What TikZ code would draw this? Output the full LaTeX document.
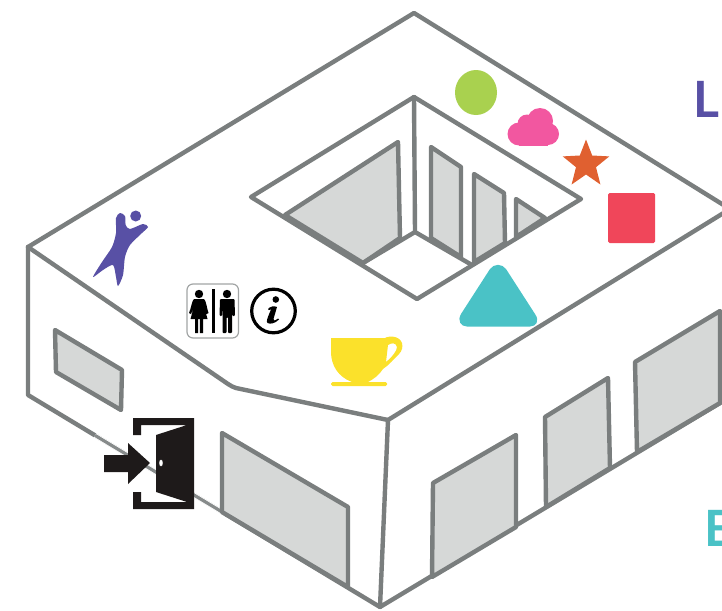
\documentclass[tikz,border=0pt]{standalone}
\usepackage{fontspec}
\setmainfont{Lato}
\definecolor{wall}{HTML}{7A7E7E}
\definecolor{glass}{HTML}{D6D8D7}
\definecolor{purp}{HTML}{5850A5}
\definecolor{teal}{HTML}{4AC2C6}
\definecolor{lime}{HTML}{A9D14F}
\definecolor{pinkc}{HTML}{F257A0}
\definecolor{orangec}{HTML}{E06030}
\definecolor{redc}{HTML}{F0465A}
\definecolor{yellowc}{HTML}{FBE12B}
\definecolor{ink}{HTML}{1E1A1A}
\tikzset{
  wallline/.style={draw=wall,line width=4.4pt,line join=round,line cap=round},
  pane/.style={wallline,fill=glass},
  bigtext/.style={font=\fontsize{50}{50}\selectfont\bfseries,inner sep=0pt,anchor=base west}
}
\begin{document}
\begin{tikzpicture}[x=1pt,y=-1pt]
\useasboundingbox (0,0) rectangle (722,610);
\clip (0,0) rectangle (722,610);
% building outline
\draw[wallline] (28,247) -- (414,13) -- (730,209) -- (388,420)
  -- (380,607) -- (730,397);
\draw[wallline] (28,247) -- (28,395) -- (380,607);
\draw[wallline] (28,247) -- (228,384) .. controls (231,386) and (233,387) .. (236,388) -- (388,420);
% faded stretch of the lower wall edge
\draw[white,line width=5pt] (95,435.4) -- (225,513.7);
\draw[wall!90,line width=3.2pt] (95,435.4) -- (225,513.7);
% left wall windows
\draw[pane] (55,330) -- (122,370) -- (121,410) -- (56,372) -- cycle;
\draw[pane] (222,433) -- (348,507) -- (348,587) -- (222,512) -- cycle;
% right wall windows
\draw[pane] (433,483) -- (516,435) -- (516,527) -- (432,577) -- cycle;
\draw[pane] (545,417) -- (608,378) -- (610,468) -- (546,507) -- cycle;
\draw[pane] (635,362) -- (720,311) -- (720,403) -- (637,452) -- cycle;
% atrium
\draw[pane] (285,215) -- (398,142) -- (400,238) -- (363,263) -- cycle;
\draw[pane] (431,147) -- (461,167) -- (461,257) -- (431,238) -- cycle;
\draw[pane] (474,174) -- (504,193) -- (505,243) -- (474,262) -- cycle;
\draw[pane] (516,199) -- (545,218) -- (516,237) -- cycle;
\draw[wallline] (414,97) -- (251,197) -- (417,299) -- (581,199) -- cycle;
\draw[wallline] (414,97) -- (415,232) -- (363,263);
\draw[wallline] (415,232) -- (472,265);
% colour shapes
\fill[lime] (476,92.5) ellipse [x radius=21,y radius=22.5];
\fill[pinkc] (519,134) circle (11.5);
\fill[pinkc] (527,124) circle (9.5);
\fill[pinkc] (540,121) circle (13);
\fill[pinkc] (548,134) circle (11);
\fill[pinkc] (519,122) rectangle (548,145.5);
\fill[orangec] (586,139.5) -- (592.2,155.5) -- (609.3,156.4) -- (596,167.2) -- (600.4,184.5)
  -- (586,174.5) -- (571.6,184.5) -- (576,167.2) -- (562.7,156.4) -- (579.8,155.5) -- cycle;
\fill[redc,rounded corners=1.5pt] (608,193) rectangle (655,243);
\fill[teal] (490,269) .. controls (494,263.5) and (502,263.5) .. (506,269) -- (535,314)
  .. controls (540,321) and (536,326.5) .. (530,326.5) -- (467,326.5)
  .. controls (461,326.5) and (457,321) .. (461,314) -- cycle;
% cup
\fill[yellowc,even odd rule] (331,338) -- (385,338) .. controls (388,336) and (399,335) .. (402,343)
  .. controls (403,347) and (402,351) .. (399,354) .. controls (394,359) and (389,365) .. (383,369)
  .. controls (379,375) and (374,379) .. (368,382) -- (352,382) .. controls (338,377) and (331,365) .. (331,352) -- cycle
  (388,345) .. controls (391,343) and (396,342) .. (397,347) .. controls (397,351) and (392,357) .. (386,362) -- cycle;
\fill[yellowc,rounded corners=1.5pt] (331,382) rectangle (387,386);
% person
\fill[purp] (135.7,216) circle (5.5);
\fill[purp] plot[smooth cycle,tension=.45] coordinates {(116,218) (120,213) (125,216) (125.7,225) (130,229)
  (143,224) (148,227) (142,233) (130,245) (125,257) (123,275) (118,286) (116,277) (113,265)
  (103,270) (93,277) (102,262) (112,247) (116,233)};
% restroom sign
\draw[wall!70,fill=white,line width=1.2pt,rounded corners=6pt] (187,284) rectangle (238.5,338);
\fill[black] (211.5,289) rectangle (215,333);
\fill[black] (199,294) circle (4.2) (227,294) circle (4.2);
\fill[black] (194,299) -- (204,299) .. controls (206,300) and (207,309) .. (208.5,313) -- (206.5,314) -- (204.5,308)
  -- (207.5,319) -- (203,319) -- (203,333) -- (199.8,333) -- (199.8,319) -- (198.2,319) -- (198.2,333) -- (195,333) -- (195,319)
  -- (190.5,319) -- (193.5,308) -- (191,314) -- (189,313) .. controls (191,309) and (192,300) .. (194,299) -- cycle;
\fill[black,rounded corners=1pt] (220,299) -- (234.5,299) -- (235,316) -- (232.5,316) -- (232,306) -- (232,333) -- (228,333) -- (228,317)
  -- (226.5,317) -- (226.5,333) -- (222.5,333) -- (222.5,306) -- (222,316) -- (219.5,316) -- cycle;
% information sign
\draw[black,line width=3.2pt] (273.5,311) circle (21.8);
\fill[black] (275.8,299.5) circle (3.3);
\fill[black] (268,309) .. controls (270,306.5) and (274,305.5) .. (277,307) -- (273.5,319)
  .. controls (273,321) and (275,321) .. (278,318.5) -- (279,319.5)
  .. controls (275,323.5) and (270,324.5) .. (267.5,323) .. controls (266,321.5) and (267,319) .. (271,309.5)
  .. controls (270,309) and (269,309.5) .. (268.7,310) -- cycle;
% entrance sign
\fill[ink] (133,418) -- (194,418) -- (194,509) -- (133,509) -- (133,492) -- (141,492) -- (141,502)
  -- (187,502) -- (156,492) -- (156,435) -- (187,425) -- (141,425) -- (141,435) -- (133,435) -- cycle;
\fill[white] (161,463) ellipse [x radius=1.8,y radius=3.3];
\fill[ink] (104,455) -- (128,455) -- (128,443) -- (150,463) -- (128,484) -- (128,472) -- (104,472) -- cycle;
% cut-off letters
\node[bigtext,text=purp] (letterL) at (693,117) {L};
\node[bigtext,text=teal] (letterE) at (704,546) {E};
\end{tikzpicture}
\end{document}
